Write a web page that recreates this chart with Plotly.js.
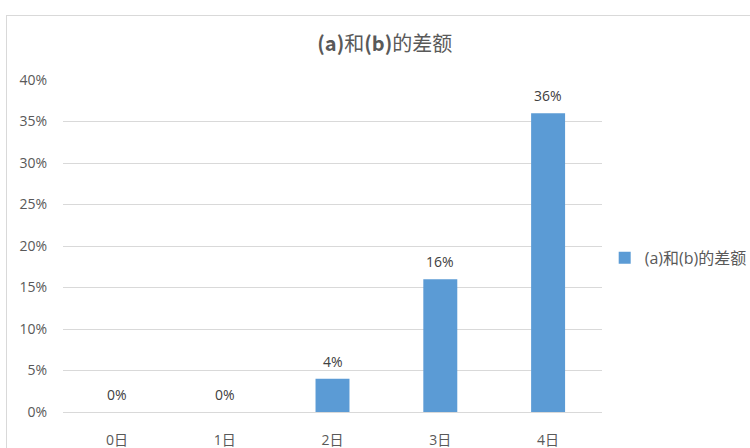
<!DOCTYPE html>
<html>
<head>
<meta charset="utf-8">
<script src="https://cdn.plot.ly/plotly-3.0.1.min.js"></script>
<style>
html,body{margin:0;padding:0;background:#fff;overflow:hidden;}
#wrap{position:relative;width:750px;height:448px;}
#frame{position:absolute;left:6px;top:15px;width:760px;height:460px;border:1px solid #d9d9d9;box-sizing:border-box;pointer-events:none;}
#chart{position:absolute;left:0;top:0;width:750px;height:448px;}
</style>
</head>
<body>
<div id="wrap">
<div id="chart"></div>
<div id="frame"></div>
</div>
<script>
const categories = ["0日", "1日", "2日", "3日", "4日"];
const values = [0, 0, 0.04, 0.16, 0.36];
const valueLabels = ["0%", "0%", "4%", "16%", "36%"];
const seriesName = "(a)和(b)的差额";
const yTickVals = [0, 0.05, 0.10, 0.15, 0.20, 0.25, 0.30, 0.35, 0.40];
const yTickText = ["0%", "5%", "10%", "15%", "20%", "25%", "30%", "35%", "40%"];

const font = "'Open Sans', 'Noto Sans CJK SC', sans-serif";
const titleFont = "'Noto Sans CJK SC', 'Open Sans', sans-serif";

const annotations = categories.map((c, i) => ({
  x: c, y: values[i], xref: "x", yref: "y",
  text: valueLabels[i], showarrow: false,
  xanchor: "center", yanchor: "bottom", yshift: 6,
  font: {family: font, size: 14, color: "#404040"}
}));

Plotly.newPlot("chart", [{
  type: "bar",
  x: categories,
  y: values,
  name: seriesName,
  marker: {color: "#5b9bd5"},
  hoverinfo: "none"
}], {
  width: 750,
  height: 448,
  margin: {l: 63, r: 148, t: 80, b: 36, pad: 0, autoexpand: false},
  paper_bgcolor: "rgba(0,0,0,0)",
  plot_bgcolor: "rgba(0,0,0,0)",
  bargap: 0.685,
  showlegend: true,
  annotations: annotations,
  title: {
    text: "<b>(a)</b>和<b>(b)</b>的差额",
    x: 0.513, xanchor: "center", y: 0.902, yanchor: "middle",
    font: {family: titleFont, size: 20, color: "#595959"}
  },
  legend: {
    x: 1.005, xanchor: "left", y: 0.464, yanchor: "middle",
    font: {family: font, size: 16, color: "#595959"},
    itemwidth: 30
  },
  xaxis: {
    type: "category",
    showgrid: false, showline: false, zeroline: false, ticks: "",
    ticklabelstandoff: 18,
    tickfont: {family: font, size: 14, color: "#595959"}
  },
  yaxis: {
    range: [0, 0.4],
    tickvals: yTickVals, ticktext: yTickText,
    showgrid: true, gridcolor: "#d9d9d9", gridwidth: 1,
    zeroline: true, zerolinecolor: "#d9d9d9", zerolinewidth: 1,
    showline: false, ticks: "", ticklabelstandoff: 15,
    tickfont: {family: font, size: 14, color: "#595959"}
  }
}, {displayModeBar: false, staticPlot: true});
</script>
</body>
</html>
